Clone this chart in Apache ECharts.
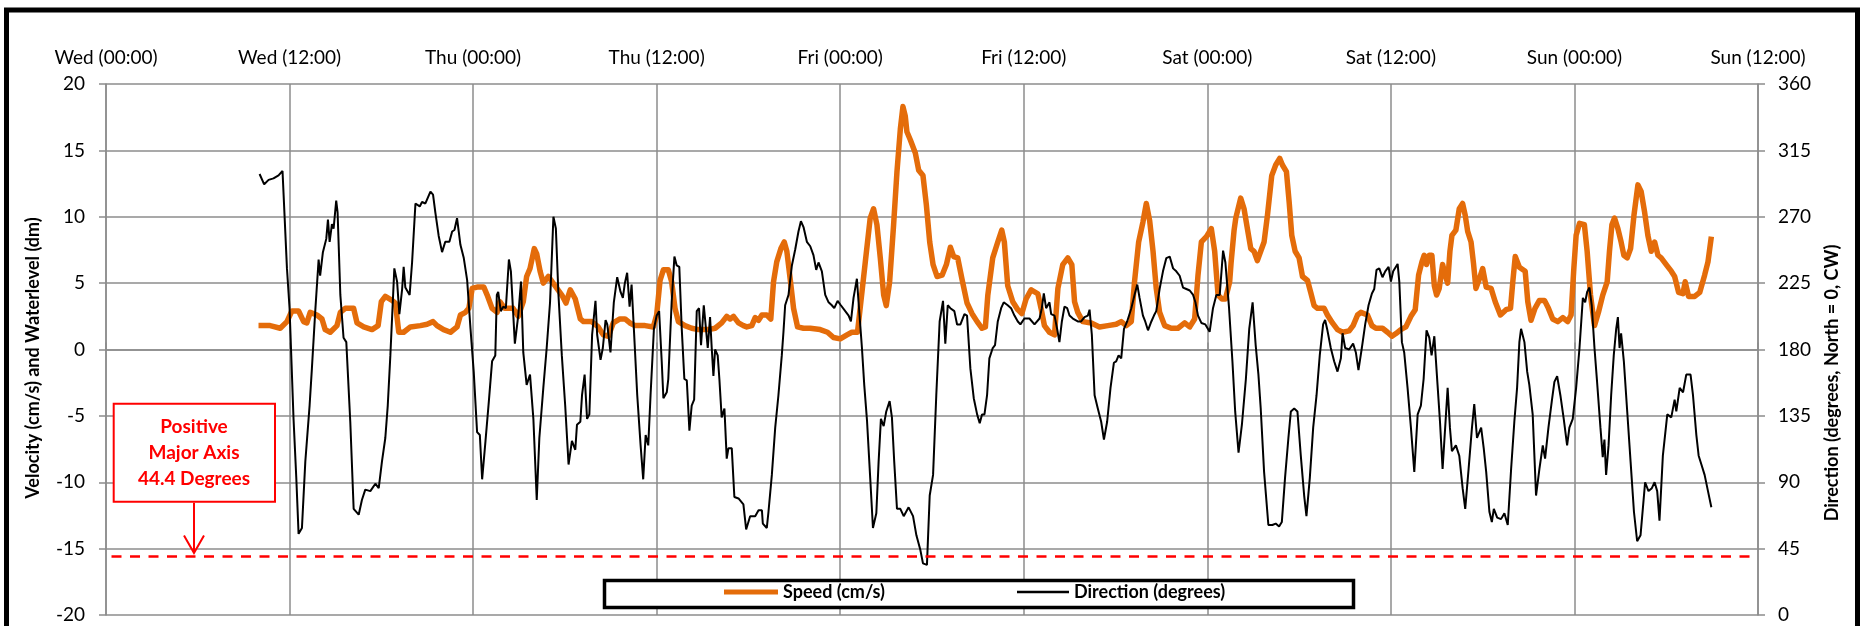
<!DOCTYPE html>
<html><head><meta charset="utf-8">
<script src="https://cdn.jsdelivr.net/npm/echarts@6/dist/echarts.min.js"></script>
<style>html,body{margin:0;padding:0;background:#fff}#c{width:1860px;height:626px}</style>
</head><body><div id="c"></div>
<script>
// Tick labels for the time axis (hours since Wed 00:00, every 12 h)
const tickLabels = ['Wed (00:00)','Wed (12:00)','Thu (00:00)','Thu (12:00)','Fri (00:00)','Fri (12:00)','Sat (00:00)','Sat (12:00)','Sun (00:00)','Sun (12:00)'];

// Speed (cm/s), left axis
const speedHours = [9.97,10.73,11.39,11.83,12.15,12.59,12.92,13.13,13.35,13.79,14.12,14.33,14.66,15.10,15.32,15.64,16.19,16.41,16.85,17.39,17.79,18.00,18.26,18.70,18.92,19.14,19.46,19.90,20.55,20.99,21.38,21.64,22.07,22.52,22.95,23.17,23.50,23.72,23.94,24.26,24.70,24.92,25.24,25.57,25.75,26.07,26.62,26.95,27.28,27.50,27.72,28.00,28.16,28.38,28.59,28.92,29.36,29.80,30.07,30.35,30.68,31.01,31.22,31.75,32.18,32.51,32.84,33.16,33.60,33.93,34.25,34.58,35.24,35.78,36.00,36.22,36.44,36.76,36.98,37.20,37.42,37.85,38.29,38.73,39.38,39.82,40.25,40.58,40.80,41.02,41.35,41.67,41.89,42.22,42.44,42.66,42.88,43.20,43.46,43.64,43.85,44.12,44.34,44.51,44.73,44.95,45.21,45.60,46.04,46.69,47.17,47.56,48.00,48.44,48.76,49.13,49.35,49.64,49.96,50.18,50.40,50.62,50.84,51.01,51.23,51.49,51.71,51.93,52.10,52.25,52.36,52.58,52.91,53.13,53.41,53.63,53.85,54.07,54.33,54.66,54.94,55.20,55.42,55.68,55.96,56.29,56.62,56.95,57.27,57.49,57.65,57.97,58.30,58.56,58.73,58.95,59.28,59.61,59.87,60.15,60.48,60.92,61.13,61.35,61.68,62.01,62.23,62.55,62.88,63.14,63.32,63.53,63.86,64.41,64.95,65.50,66.04,66.37,66.70,67.03,67.24,67.51,67.79,68.01,68.23,68.45,68.66,68.88,69.21,69.64,70.08,70.52,70.85,71.17,71.39,71.61,71.94,72.26,72.48,72.70,72.96,73.18,73.46,73.55,73.75,73.86,74.18,74.40,74.62,74.84,75.05,75.27,75.49,75.71,75.93,76.21,76.47,76.73,76.91,77.17,77.35,77.52,77.74,78.00,78.22,78.55,78.76,78.98,79.20,79.64,79.85,80.18,80.51,80.84,81.27,81.53,81.82,82.04,82.47,82.76,83.02,83.45,83.78,84.07,84.33,84.65,84.98,85.31,85.59,85.81,86.03,86.18,86.33,86.51,86.68,86.84,86.99,87.16,87.38,87.56,87.71,87.86,87.99,88.25,88.47,88.69,88.86,89.02,89.24,89.40,89.56,89.78,90.00,90.23,90.55,90.82,91.16,91.53,91.82,91.97,92.13,92.40,92.78,92.95,93.16,93.42,93.71,94.04,94.30,94.58,94.91,95.24,95.56,95.78,95.96,96.11,96.33,96.65,96.83,97.05,97.31,97.57,97.85,98.14,98.29,98.45,98.62,98.84,99.05,99.23,99.45,99.67,99.89,100.15,100.36,100.58,100.80,101.02,101.24,101.46,101.67,102.00,102.33,102.55,102.81,103.09,103.24,103.46,103.86,104.19,104.51,104.73,104.95];
const speedValues = [1.8,1.8,1.6,2.1,2.9,2.9,2.1,2.0,2.8,2.6,2.3,1.5,1.3,1.8,2.8,3.1,3.1,2.0,1.7,1.5,1.8,3.6,4.0,3.7,3.5,1.3,1.3,1.7,1.8,1.9,2.1,1.8,1.5,1.3,1.7,2.6,2.8,3.1,4.6,4.7,4.7,4.1,3.1,2.8,3.6,3.1,3.1,2.5,3.6,5.5,6.1,7.6,7.2,5.9,5.0,5.5,4.8,4.1,3.5,4.5,3.8,2.3,2.1,2.1,1.7,1.1,1.0,2.0,2.3,2.3,2.0,1.8,1.8,1.7,2.6,5.2,6.0,6.0,5.1,3.1,2.1,1.8,1.6,1.5,1.5,1.6,2.0,2.5,2.3,2.5,2.0,1.8,1.7,1.8,2.4,2.2,2.6,2.6,2.3,5.1,6.6,7.6,8.1,7.4,5.3,3.1,1.7,1.6,1.6,1.5,1.3,0.9,0.8,1.1,1.3,1.3,3.6,6.6,9.9,10.6,9.4,6.9,4.1,3.3,5.1,9.4,13.4,16.6,18.3,17.6,16.4,15.8,14.8,13.5,13.1,10.9,8.1,6.4,5.5,5.6,6.4,7.7,7.0,6.9,5.3,3.5,2.7,2.1,1.6,1.7,4.1,6.9,8.1,9.0,8.1,4.8,3.6,3.0,2.7,3.8,4.5,4.2,3.1,1.8,1.3,1.1,4.6,6.4,6.9,6.4,3.6,2.8,2.1,2.0,1.7,1.8,1.9,2.1,1.8,2.1,5.1,8.1,9.6,11.0,9.7,7.4,4.6,2.8,1.8,1.6,1.6,2.0,1.7,2.3,5.6,8.1,8.5,9.1,7.4,4.1,3.8,3.8,5.1,6.5,9.0,9.9,11.4,10.6,9.1,7.6,7.4,6.7,7.4,8.1,10.1,13.1,13.9,14.4,13.9,13.4,11.1,8.6,7.4,6.9,5.5,5.2,4.3,3.3,3.1,3.1,2.6,2.0,1.5,1.3,1.4,1.8,2.6,2.8,2.6,1.8,1.6,1.6,1.3,1.0,1.2,1.5,1.7,2.5,3.0,5.6,6.6,7.1,6.4,7.1,7.1,4.8,4.1,4.6,6.4,5.6,5.0,7.4,8.6,9.0,10.6,11.0,10.1,8.9,8.1,6.5,4.6,5.3,6.1,4.7,4.6,3.6,2.6,3.0,3.1,5.1,7.0,6.2,5.9,3.6,2.2,3.1,3.7,3.7,3.1,2.3,2.1,2.4,2.1,2.6,6.1,8.6,9.5,9.4,7.4,4.1,1.8,2.8,4.1,5.1,7.4,9.4,9.9,9.1,8.1,7.1,6.9,7.6,10.1,12.4,11.9,10.4,8.6,7.4,8.1,7.1,6.9,6.4,5.9,5.5,4.3,4.2,5.1,4.0,4.0,4.3,5.6,6.6,8.5];

// Direction (degrees, North = 0, CW), right axis
const directionHours = [10.04,10.34,10.63,10.95,11.28,11.54,11.83,12.00,12.26,12.44,12.59,12.81,13.03,13.31,13.46,13.68,13.90,14.00,14.18,14.40,14.51,14.62,14.77,14.88,15.05,15.14,15.32,15.53,15.71,15.97,16.19,16.52,16.73,16.95,17.28,17.61,17.83,18.04,18.26,18.42,18.59,18.85,19.03,19.18,19.36,19.46,19.57,19.68,19.85,20.01,20.23,20.33,20.51,20.66,20.88,21.21,21.38,21.53,21.75,21.97,22.18,22.45,22.63,22.78,22.95,23.17,23.39,23.61,23.83,24.04,24.26,24.44,24.59,24.81,25.03,25.24,25.45,25.55,25.64,25.81,25.97,26.14,26.34,26.47,26.73,26.95,27.13,27.28,27.50,27.72,27.94,28.16,28.33,28.59,28.81,29.03,29.25,29.41,29.58,29.80,30.02,30.24,30.46,30.68,30.79,31.01,31.12,31.29,31.45,31.60,31.78,32.00,32.11,32.33,32.48,32.66,32.77,32.98,33.20,33.42,33.64,33.79,33.92,34.07,34.23,34.36,34.51,34.73,34.95,35.12,35.28,35.45,35.60,35.82,36.00,36.16,36.33,36.44,36.66,36.76,36.98,37.16,37.31,37.48,37.64,37.81,37.97,38.14,38.29,38.45,38.62,38.77,38.90,39.08,39.21,39.34,39.49,39.60,39.71,39.82,39.99,40.10,40.25,40.43,40.58,40.69,40.91,41.08,41.35,41.67,41.85,42.11,42.44,42.66,42.88,42.94,43.20,43.31,43.53,43.75,43.96,44.18,44.29,44.40,44.62,44.84,45.06,45.27,45.43,45.60,45.82,46.04,46.25,46.43,46.58,46.80,47.02,47.24,47.45,47.61,47.83,48.04,48.33,48.55,48.70,48.87,49.09,49.20,49.42,49.57,49.75,49.96,50.14,50.36,50.51,50.66,50.84,51.01,51.23,51.38,51.53,51.71,51.93,52.15,52.47,52.76,52.98,53.24,53.41,53.67,53.85,54.07,54.28,54.50,54.72,54.87,55.03,55.20,55.46,55.64,55.86,56.12,56.29,56.51,56.73,56.95,57.12,57.27,57.43,57.60,57.75,57.97,58.12,58.30,58.52,58.69,58.95,59.17,59.39,59.61,59.78,60.04,60.37,60.70,61.03,61.18,61.31,61.46,61.68,61.79,62.01,62.18,62.33,62.49,62.66,62.84,62.99,63.21,63.53,63.75,63.97,64.19,64.30,64.45,64.63,64.84,65.06,65.24,65.45,65.67,65.89,66.04,66.20,66.37,66.55,66.76,67.03,67.24,67.42,67.57,67.79,67.94,68.12,68.34,68.51,68.66,68.88,69.10,69.32,69.54,69.76,69.97,70.19,70.41,70.63,70.85,71.07,71.22,71.39,71.61,71.87,72.15,72.37,72.59,72.81,73.03,73.18,73.42,73.64,73.82,74.04,74.26,74.52,74.74,74.96,75.16,75.34,75.49,75.71,75.99,76.25,76.47,76.69,76.87,77.08,77.30,77.46,77.68,77.89,78.11,78.33,78.48,78.70,78.92,79.14,79.35,79.57,79.70,79.85,80.07,80.29,80.51,80.73,80.84,81.01,81.27,81.53,81.71,81.88,82.10,82.32,82.54,82.76,82.91,83.06,83.24,83.45,83.63,83.85,84.00,84.15,84.44,84.55,84.72,84.87,85.09,85.31,85.53,85.75,85.96,86.14,86.33,86.51,86.66,86.84,87.05,87.21,87.38,87.56,87.71,87.86,87.99,88.25,88.47,88.69,88.86,89.08,89.30,89.45,89.63,89.90,90.07,90.23,90.44,90.60,90.73,90.95,91.20,91.42,91.64,91.86,92.07,92.25,92.40,92.51,92.73,92.91,93.05,93.27,93.49,93.71,93.93,94.08,94.30,94.52,94.69,94.87,95.08,95.30,95.52,95.67,95.89,96.11,96.33,96.55,96.70,96.83,96.98,97.13,97.31,97.48,97.70,97.85,97.96,98.07,98.23,98.40,98.57,98.73,98.84,98.95,99.05,99.23,99.45,99.67,99.89,100.10,100.32,100.47,100.62,100.84,101.06,101.24,101.41,101.56,101.78,102.07,102.33,102.55,102.66,102.88,103.10,103.31,103.59,103.75,103.97,104.12,104.30,104.51,104.73,104.95];
const directionValues = [299,292,295,296,298,301,235,208,133,93,55,59,104,142,167,206,241,230,246,255,268,253,265,262,281,273,217,188,185,131,72,68,78,85,84,89,86,104,120,142,176,235,226,204,221,236,222,221,217,239,279,280,277,280,279,287,285,273,257,246,253,253,260,261,269,251,242,227,194,165,124,122,92,118,145,172,176,217,219,206,209,208,241,233,184,203,226,178,156,163,133,78,120,154,181,212,270,262,217,176,142,102,118,112,129,131,149,163,133,136,190,213,190,173,181,200,197,178,212,229,219,215,225,232,209,224,194,149,115,92,122,115,149,194,203,206,172,147,151,160,212,243,237,236,194,160,159,125,142,146,206,208,183,210,210,181,202,181,162,180,176,160,134,140,106,113,113,80,79,75,58,67,67,71,71,62,59,70,95,127,149,176,192,210,217,237,248,260,267,263,253,250,244,234,239,233,217,212,210,208,213,210,206,203,199,215,228,212,181,156,132,93,59,69,104,133,128,138,145,134,104,72,72,67,73,67,54,44,35,34,81,95,149,199,213,184,210,208,206,197,197,204,203,167,147,136,130,136,136,149,174,181,183,199,208,212,210,208,203,199,197,201,201,197,201,208,218,208,212,204,203,194,185,199,209,208,203,201,199,199,202,203,207,190,149,140,131,119,131,154,171,172,176,174,194,199,208,217,224,215,203,199,193,199,203,206,221,233,242,243,235,233,230,222,221,220,217,212,203,198,197,192,208,217,217,247,239,208,172,138,110,129,160,194,212,183,163,140,97,61,61,62,60,63,93,120,138,140,138,108,81,67,93,127,149,176,197,200,193,181,172,165,174,191,181,180,184,178,166,181,197,210,218,221,234,235,229,233,236,226,233,238,226,185,178,154,127,97,136,142,160,193,188,176,189,156,131,99,129,154,127,111,115,108,86,72,99,127,143,120,127,113,97,70,63,72,66,65,69,61,99,131,154,185,194,185,165,156,136,81,99,115,106,127,145,158,162,149,133,115,127,133,154,181,215,212,219,222,210,181,158,127,107,119,95,115,149,176,194,202,181,191,172,138,104,70,50,54,72,90,84,86,90,84,64,108,136,134,146,138,154,151,163,163,149,122,108,102,95,84,73];

// Reference line ("Positive Major Axis") on the velocity axis
const majorAxisValue = -15.55;
const annotationLines = ['Positive', 'Major Axis', '44.4 Degrees'];

const FONT = 'Lato, "Open Sans", sans-serif';
const GRID = '#8c8c8c';
const ORANGE = '#E46C0A';

const chart = echarts.init(document.getElementById('c'), null, {renderer: 'canvas'});
const axisCommon = {
  axisLine: {show: true, lineStyle: {color: GRID, width: 1.5}},
  axisTick: {show: true, length: 7, inside: false, lineStyle: {color: GRID, width: 1.5}}
};
chart.setOption({
  animation: false,
  backgroundColor: '#fff',
  grid: {left: 106, right: 102, top: 84, bottom: 11, containLabel: false, outerBoundsMode: 'none'},
  xAxis: Object.assign({
    type: 'value', position: 'top', min: 0, max: 108, interval: 12,
    axisLabel: {margin: 17, fontFamily: FONT, fontSize: 19, color: '#000',
      formatter: v => tickLabels[Math.round(v / 12)]},
    splitLine: {show: true, lineStyle: {color: GRID, width: 1.5}}
  }, axisCommon),
  yAxis: [
    Object.assign({
      type: 'value', position: 'left', min: -20, max: 20, interval: 5,
      axisLabel: {margin: 21, fontFamily: FONT, fontSize: 19, color: '#000'},
      splitLine: {show: true, lineStyle: {color: GRID, width: 1.5}}
    }, axisCommon),
    Object.assign({
      type: 'value', position: 'right', min: 0, max: 360, interval: 45,
      axisLabel: {margin: 20, fontFamily: FONT, fontSize: 19, color: '#000'},
      splitLine: {show: false}
    }, axisCommon)
  ],
  legend: [
    {data: ['Speed (cm/s)'], left: 724, top: 583, padding: 0, icon: 'rect', itemWidth: 54, itemHeight: 5,
      itemStyle: {borderWidth: 0}, selectedMode: false, z: 10,
      textStyle: {fontFamily: FONT, fontWeight: 'bold', fontSize: 18, color: '#000'}},
    {data: ['Direction (degrees)'], left: 1017, top: 583, padding: 0, icon: 'rect', itemWidth: 52, itemHeight: 2.5,
      itemStyle: {borderWidth: 0}, selectedMode: false, z: 10,
      textStyle: {fontFamily: FONT, fontWeight: 'bold', fontSize: 18, color: '#000'}}
  ],
  series: [
    {
      name: 'Speed (cm/s)', type: 'line', yAxisIndex: 0, symbol: 'none', showSymbol: false,
      data: speedHours.map((h, i) => [h, speedValues[i]]),
      lineStyle: {color: ORANGE, width: 5.5, join: 'round'}, itemStyle: {color: ORANGE},
      z: 2,
      markLine: {
        silent: true, symbol: ['none', 'none'], label: {show: false}, animation: false,
        lineStyle: {color: '#ff0000', type: [10, 8.5], width: 2.5},
        data: [[{coord: [0.36, majorAxisValue]}, {coord: [108, majorAxisValue]}]]
      }
    },
    {
      name: 'Direction (degrees)', type: 'line', yAxisIndex: 1, symbol: 'none', showSymbol: false,
      data: directionHours.map((h, i) => [h, directionValues[i]]),
      lineStyle: {color: '#000', width: 2}, itemStyle: {color: '#000'},
      z: 3
    }
  ],
  graphic: [
    {type: 'rect', z: 5, silent: true, shape: {x: 604.5, y: 580.5, width: 749, height: 27},
      style: {fill: '#fff', stroke: '#000', lineWidth: 3.5}},
    {type: 'rect', z: 6, silent: true, shape: {x: 113.7, y: 403.8, width: 161.3, height: 98},
      style: {fill: '#fff', stroke: '#ff0000', lineWidth: 2}},
    {type: 'text', z: 7, silent: true, x: 194, y: 453,
      style: {text: annotationLines.join('\n'), fill: '#ff0000', font: 'bold 19px ' + FONT,
        align: 'center', verticalAlign: 'middle', lineHeight: 26}},
    {type: 'line', z: 7, silent: true, shape: {x1: 194, y1: 502.7, x2: 194, y2: 552},
      style: {stroke: '#ff0000', lineWidth: 2}},
    {type: 'polyline', z: 7, silent: true, shape: {points: [[184, 535.5], [194, 553], [204, 535.5]]},
      style: {stroke: '#ff0000', lineWidth: 2, fill: null}},
    {type: 'text', z: 7, silent: true, x: 33.6, y: 358, rotation: Math.PI / 2,
      style: {text: 'Velocity (cm/s) and Waterlevel (dm)', fill: '#000', font: 'bold 18px ' + FONT,
        align: 'center', verticalAlign: 'middle'}},
    {type: 'text', z: 7, silent: true, x: 1832, y: 383, rotation: Math.PI / 2,
      style: {text: 'Direction (degrees, North = 0, CW)', fill: '#000', font: 'bold 18px ' + FONT,
        align: 'center', verticalAlign: 'middle'}},
    {type: 'rect', z: 20, silent: true, shape: {x: 6.5, y: 10, width: 1851, height: 700},
      style: {fill: null, stroke: '#000', lineWidth: 5}}
  ]
});
</script>
</body></html>
